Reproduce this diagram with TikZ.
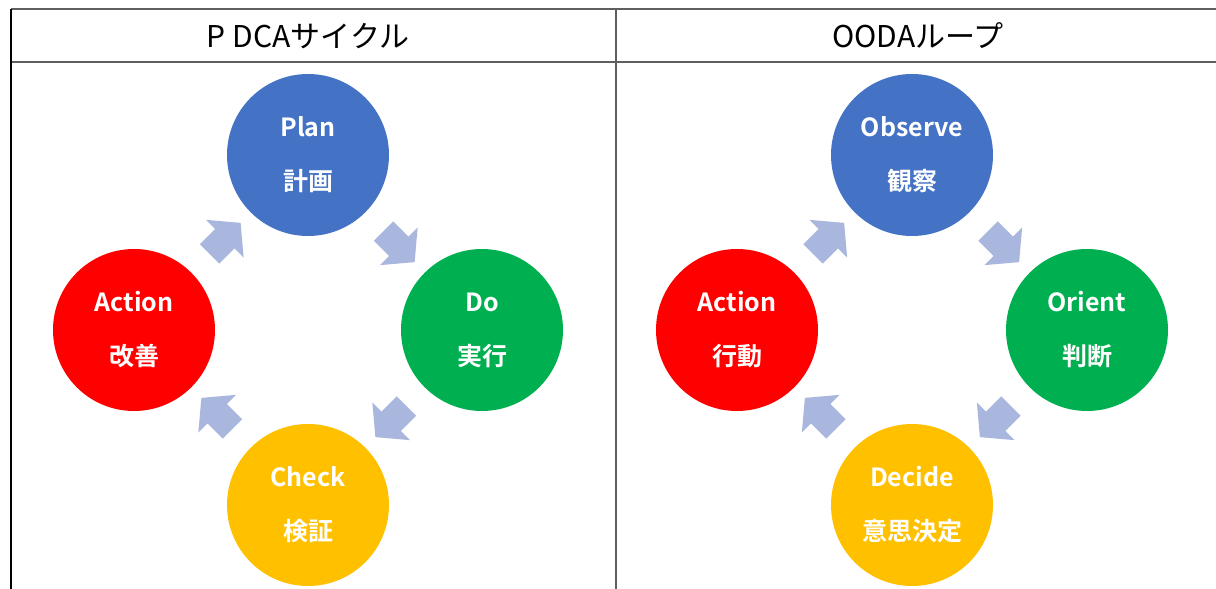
\documentclass[tikz,border=0pt]{standalone}
\usepackage{fontspec}
\setmainfont{Noto Sans CJK JP}[BoldFont={Noto Sans CJK JP Bold}]
\usepackage{tikz}
\usetikzlibrary{calc,positioning,shapes.arrows}
\usepackage{xcolor}

\definecolor{planblue}{RGB}{68,114,196}
\definecolor{dogreen}{RGB}{0,176,80}
\definecolor{actred}{RGB}{255,0,0}
\definecolor{checkgold}{RGB}{255,192,0}
\definecolor{flowblue}{RGB}{169,182,221}
\definecolor{rulegray}{RGB}{95,95,95}

\begin{document}
\begin{tikzpicture}[x=1pt, y=-1pt,
  phase/.style={circle, minimum size=162pt, inner sep=0pt, text=white, align=center,
    font=\bfseries\fontsize{25}{54}\selectfont},
  flow/.style={single arrow, fill=flowblue, minimum height=44pt,
    single arrow head extend=13pt, single arrow tip angle=100,
    inner xsep=0pt, inner ysep=13.5pt},
  title/.style={font=\fontsize{30}{36}\selectfont},
  rule/.style={rulegray, line width=1.3pt}]
  \useasboundingbox (0,0) rectangle (1216,589);

  % Table frame
  \coordinate (tl) at (11,9);
  \coordinate (tr) at (1216,9);
  \coordinate (hl) at (11,62);
  \coordinate (hr) at (1216,62);
  \coordinate (bl) at (11,589);
  \coordinate (tm) at (616,9);
  \coordinate (bm) at (616,589);
  \draw[rule] (tl) -- (tr);
  \draw[rule] (hl) -- (hr);
  \draw[rule, black] (tl) -- (bl);
  \draw[rule] (tm) -- (bm);

  % Headers
  \node[title] (pdcatitle) at (308,36) {P DCAサイクル};
  \node[title] (oodatitle) at (918,36) {OODAループ};

  % PDCA cycle
  \node[phase, fill=planblue]  (plan)   at (308,155) {Plan\\計画};
  \node[phase, fill=dogreen]   (do)     at (482,330) {Do\\実行};
  \node[phase, fill=checkgold] (check)  at (308,505) {Check\\検証};
  \node[phase, fill=actred]    (act)    at (134,330) {Action\\改善};

  \node[flow, rotate=-45]  (plando)   at ($(plan)!0.5!(do)$) {};
  \node[flow, rotate=-135] (docheck)  at ($(do)!0.5!(check)$) {};
  \node[flow, rotate=135]  (checkact) at ($(check)!0.5!(act)$) {};
  \node[flow, rotate=45]   (actplan)  at ($(act)!0.5!(plan)$) {};

  % OODA loop
  \node[phase, fill=planblue]  (observe) at (912,155) {Observe\\観察};
  \node[phase, fill=dogreen]   (orient)  at (1087,330) {Orient\\判断};
  \node[phase, fill=checkgold] (decide)  at (912,505) {Decide\\意思決定};
  \node[phase, fill=actred]    (oact)    at (737,330) {Action\\行動};

  \node[flow, rotate=-45]  (obsori) at ($(observe)!0.5!(orient)$) {};
  \node[flow, rotate=-135] (oridec) at ($(orient)!0.5!(decide)$) {};
  \node[flow, rotate=135]  (decact) at ($(decide)!0.5!(oact)$) {};
  \node[flow, rotate=45]   (actobs) at ($(oact)!0.5!(observe)$) {};
\end{tikzpicture}
\end{document}
